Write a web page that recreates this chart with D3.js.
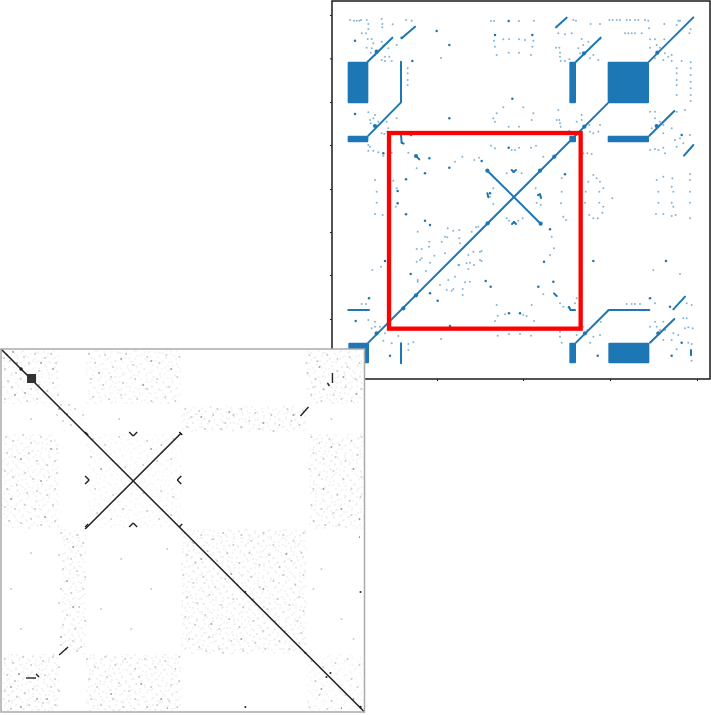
<!DOCTYPE html>
<html><head><meta charset="utf-8">
<script src="https://cdn.jsdelivr.net/npm/d3@7"></script>
<style>html,body{margin:0;padding:0;background:#fff}svg{display:block}</style>
</head><body><svg id="c" width="711" height="715"></svg>
<script>
// ---- upper sparsity plot, row/column cells ----
const spyBlocks=[[53,115,185,310],[718,738,185,310],[833,957,185,310],[53,115,407,427],[718,738,407,427],[833,957,407,427],[55,117,1028,1090],[718,738,1028,1090],[835,958,1028,1090]];
const spySegments=[[115,1028,833,310],[957,185,1090,52],[113,185,187,113],[215,115,255,80],[115,407,213,307],[213,307,213,185],[738,185,812,113],[678,82,710,53],[958,407,1033,333],[1062,467,1090,435],[960,1028,1033,957],[1030,928,1065,890],[738,1028,836,930],[836,930,958,930],[55,930,117,930],[213,1030,213,1090],[472,512,632,671],[213,405,215,428],[215,428,221,431],[258,468,268,478],[672,880,680,888],[717,922,722,930],[722,930,735,930],[1083,1050,1083,1065],[545,510,551,516],[551,516,558,510],[546,672,552,666],[552,666,558,672],[472,580,475,592],[630,582,633,594]];
const spyNodes=[[472,512],[630,512],[473,670],[632,671],[220,925],[258,886],[673,470],[140,155],[762,160],[982,158],[135,378],[763,380],[980,378],[140,1000],[765,1000],[985,1000],[728,417],[258,468]];
const spyDark=[[320,93],[358,135],[247,183],[75,122],[215,113],[536,63],[495,105],[607,105],[547,296],[75,342],[358,355],[243,405],[160,460],[298,475],[285,520],[358,503],[455,483],[536,443],[705,523],[228,538],[203,573],[203,610],[228,643],[285,662],[300,675],[300,880],[242,822],[323,902],[165,783],[467,843],[482,860],[625,860],[670,845],[642,785],[660,688],[480,580],[625,585],[537,940],[570,940],[790,783],[1008,783],[717,922],[360,978],[117,895],[77,963],[180,1067],[803,1067],[960,895],[1025,1067],[1055,1028],[1020,920],[1055,405]];
const spyLight=[[60,60],[72,62],[80,62],[88,62],[93,60],[110,60],[115,72],[155,57],[157,72],[157,82],[188,73],[228,60],[245,62],[115,87],[95,100],[108,100],[113,117],[125,117],[130,130],[110,143],[125,145],[155,125],[160,137],[175,145],[122,158],[135,165],[165,170],[178,170],[155,180],[165,183],[185,183],[200,135],
[483,63],[492,63],[567,63],[612,62],[492,122],[520,118],[537,118],[567,118],[585,120],[610,122],[495,140],[607,140],[500,165],[536,158],[567,158],[603,165],[333,174],[233,205],[233,220],[233,240],[233,255],
[730,60],[738,62],[680,80],[685,100],[705,103],[725,100],[782,72],[810,72],[810,117],[755,117],[775,125],[760,135],[745,145],[678,143],[688,143],[690,158],[690,170],[692,183],[705,183],[718,178],[780,175],[790,165],[805,180],[750,160],
[838,60],[848,60],[860,60],[870,60],[890,60],[900,60],[915,60],[925,60],[945,60],[955,62],[957,85],[1003,72],[1045,62],[1050,62],[1040,75],[885,100],[895,100],[905,100],[915,100],[935,100],[960,118],[975,118],[1003,118],[980,135],[960,143],[990,143],[1005,160],[1015,170],[1025,165],[975,175],[1000,180],[1025,183],[1055,183],[1082,187],[1078,100],[1082,88],[1040,205],[1040,220],[1040,240],[1040,255],[1082,205],[1082,225],[1082,245],[1082,265],[1082,285],[1082,303],[1040,285],
[520,322],[580,322],[500,340],[610,340],[490,355],[605,360],[495,365],[536,380],[567,380],[115,337],[130,355],[135,345],[120,360],[122,370],[145,365],[170,365],[200,355],[175,385],[155,400],[163,402],[172,395],
[685,330],[680,360],[688,360],[690,370],[692,380],[690,395],[705,395],[718,392],[740,365],[755,345],[755,360],[778,375],[805,395],[810,375],[790,400],[780,395],
[975,335],[960,335],[975,355],[990,365],[1000,375],[965,385],[1000,400],[1025,385],[1040,335],[1065,330],[1080,405],[1035,420],[1050,415],[1040,440],[1060,430],
[115,435],[120,440],[115,452],[130,452],[145,457],[160,467],[185,458],[135,540],[190,542],[200,565],[235,458],[260,505],[375,485],[397,470],[433,480],[447,473],
[483,437],[495,445],[545,450],[567,443],[555,450],[603,443],[618,437],[640,470],[530,520],[575,520],[490,565],[617,565],[695,535],[755,450],[760,460],[772,460],[785,462],[755,465],[790,525],[800,535],[820,565],[810,545],[775,545],[975,447],[960,450],[985,450],[1005,460],[1000,443],[1027,535],[1025,560],[980,540],[1080,522],[1080,540],[1000,530],
[140,575],[140,608],[197,620],[135,642],[158,645],[263,695],[353,685],[370,692],[388,690],[345,710],[352,712],[335,725],[298,725],[297,740],[260,747],[275,747],[345,760],[313,767],[275,775],[270,780],[300,788],[260,785],[385,795],[388,715],[390,730],[425,695],[438,682],[445,680],[430,755],[450,755],[455,753],[415,765],[450,780],[455,783],[420,788],[410,790],[415,807],[432,795],[388,795],[375,830],[355,840],[420,845],[405,847],[330,855],[370,867],[365,872],[350,870],[398,867],[398,885],[263,845],[263,840],[288,813],[127,810],[153,800],
[640,883],[665,710],[672,745],[660,765],[480,590],[490,612],[632,592],[620,608],[632,615],[537,662],[565,662],[530,655],[578,655],[695,575],[693,610],[700,650],[708,660],[970,810],[1050,822],
[690,910],[700,920],[740,895],[735,910],[500,915],[605,915],[495,963],[612,963],[503,947],[525,943],[580,945],[590,948],[503,1007],[537,1002],[570,1002],[603,1007],[333,1017],
[767,575],[808,575],[765,608],[808,608],[820,620],[817,638],[778,645],[790,655],[803,655],[847,595],[985,575],[1030,575],[1080,575],[985,608],[1025,608],[1030,620],[1080,608],[978,642],[1000,642],[1025,648],[1037,645],[1080,655],
[95,912],[108,912],[115,960],[135,965],[135,980],[125,985],[150,980],[165,1000],[160,1022],[185,1030],[205,1008],[250,1027],[235,1032],[235,1050],[690,995],[690,1010],[695,1028],[740,1005],[760,980],[772,990],[790,1010],[810,1005],[780,1028],[812,965],[800,965],
[890,912],[905,912],[915,912],[930,912],[975,910],[975,965],[980,980],[1000,965],[960,980],[990,990],[1005,990],[1000,1020],[1025,1020],[1030,1000],[1060,955],[1070,955],[1065,985],[1075,982],[1088,985],[1045,1005],[1075,1028],[1040,1048],[1085,1032],[1082,1055],[1082,1065],[1085,1082],[1070,910],[1085,915]];
const spyXTicks=[321,579,840,1101];
const spyYTicks=[45,175,306,435,567,696,825,957,1086];
const zoomBox=[177,752,399,986];

// ---- lower grey matrix view ----
const matrixDiagonals=[[0,0,363,363],[84,180,180,84]];
const matrixSquare=[26,35,25,34];
const matrixStrokes=[[331,24,331,34],[326,34,328,37],[299,67,307,58],[58,306,67,298],[25,329,35,329],[35,325,38,328],[128,83,132,87],[132,87,136,83],[128,178,132,174],[132,174,136,178],[84,127,88,131],[88,131,84,135],[180,127,176,131],[176,131,180,135],[84,83,87,86],[178,83,181,86],[84,178,87,175],[178,178,181,175]];
const matrixSpots=[[20,20,1.7],[359,243,1],[358,188,.6],[244,358,1],[325,328,1],[329,324,1],[359,358,1.2],[304,304,1],[244,243,1],[166,359,.5],[340,359,.6]];
const matrixRegions=[[0,58,0,55,.8],[85,180,0,55,.8],[305,363,0,55,.9],[180,305,57,83,.95],[0,58,85,180,.8],[85,180,85,180,.45],[308,363,85,180,.9],[60,85,180,305,.95],[180,305,180,305,1],[0,58,305,363,1],[85,180,305,363,1],[305,363,305,363,.6],[58,85,57,83,.4]];
const matrixTile=[[2,3],[9,1],[17,4],[24,2],[33,5],[5,8],[13,9],[21,7],[29,10],[36,8],[1,13],[8,15],[16,13],[25,15],[32,14],[4,19],[12,20],[20,18],[28,21],[35,19],[7,24],[15,25],[23,23],[31,26],[2,28],[10,30],[18,29],[26,31],[34,29],[6,34],[14,35],[22,33],[30,36],[1,38],[9,40],[17,38],[25,39],[33,40]];
const matrixNoiseStrong=[[6,6],[12,3],[16,14],[40,14],[52,20],[14,46],[24,44],[98,24],[120,10],[142,36],[150,12],[170,20],[58,60],[66,65],[20,110],[40,132],[50,100],[10,150],[44,168],[100,120],[150,100],[200,68],[228,63],[262,74],[292,66],[318,18],[342,28],[355,45],[330,98],[352,120],[322,140],[340,160],[358,170],[72,198],[66,232],[72,258],[60,288],[65,300],[10,338],[20,358],[46,350],[110,345],[140,335],[160,350],[200,210],[230,225],[210,275],[262,240],[285,205],[240,290],[320,340],[352,350],[18,325],[36,350]];
const matrixNoise=[[3,9],[9,12],[4,20],[15,24],[23,8],[28,14],[34,5],[38,22],[44,9],[50,5],[55,14],[7,32],[11,38],[20,30],[30,40],[38,36],[46,42],[52,34],[57,46],[4,50],[26,52],[36,50],
[88,5],[94,14],[104,6],[112,18],[125,5],[132,16],[146,8],[158,14],[165,6],[178,8],[90,30],[102,36],[110,28],[122,34],[134,30],[146,40],[156,30],[168,38],[176,28],[92,48],[108,50],[120,46],[136,50],[150,52],[164,48],[174,52],
[60,56],[68,56],[74,60],[82,66],[62,72],[70,76],[78,78],[56,66],
[5,88],[12,92],[22,86],[30,94],[40,88],[50,92],[56,100],[6,104],[14,108],[28,104],[36,112],[46,116],[54,112],[4,122],[12,128],[24,124],[32,130],[48,128],[56,124],[6,140],[16,136],[26,144],[36,142],[46,146],[54,140],[4,158],[14,160],[24,156],[34,160],[52,156],[8,172],[20,174],[30,170],[40,176],[54,172],
[92,90],[104,96],[118,88],[146,92],[160,96],[172,90],[90,108],[112,112],[124,118],[142,116],[156,112],[170,110],[94,140],[112,146],[124,140],[142,144],[160,142],[172,148],[96,164],[110,170],[122,160],[146,162],[158,170],[170,166],
[184,60],[190,68],[198,62],[208,72],[216,60],[224,74],[232,66],[240,60],[248,72],[254,64],[270,66],[278,76],[286,60],[298,76],[302,62],[186,78],[204,80],[220,80],[258,80],[272,82],[290,72],[240,78],[212,66],
[308,6],[316,12],[326,6],[336,10],[348,8],[358,14],[306,24],[314,30],[322,40],[336,22],[346,18],[354,30],[310,46],[320,52],[332,46],[340,50],[350,52],[360,40],[344,38],[312,38],[305,14],
[310,88],[318,94],[328,90],[338,96],[350,92],[360,88],[312,104],[322,110],[334,108],[344,112],[356,106],[308,120],[318,126],[332,122],[342,130],[360,128],[312,140],[336,146],[350,140],[310,156],[320,160],[332,164],[348,152],[312,172],[324,176],[338,176],[350,166],[359,148],
[60,184],[66,190],[76,186],[82,194],[58,206],[70,210],[80,206],[62,220],[76,222],[84,228],[60,240],[70,244],[82,240],[58,254],[66,266],[78,258],[62,276],[74,280],[84,272],[60,296],[72,292],[80,298],[76,302],
[184,184],[192,194],[200,186],[212,190],[222,184],[232,196],[240,186],[250,192],[262,184],[272,196],[282,186],[292,192],[302,184],
[186,206],[194,214],[206,202],[216,212],[226,204],[238,214],[248,204],[258,216],[268,206],[278,218],[290,212],[300,204],
[182,226],[192,234],[202,228],[214,238],[224,230],[236,236],[250,228],[258,238],[272,232],[282,226],[294,236],[302,226],
[186,248],[196,254],[208,246],[220,256],[232,250],[242,258],[252,250],[266,260],[276,250],[288,256],[298,248],[302,262],
[184,268],[194,276],[204,266],[218,280],[228,270],[238,278],[252,272],[262,282],[274,272],[284,282],[296,272],[300,284],
[188,290],[198,298],[208,288],[218,300],[230,292],[242,302],[254,294],[264,300],[278,292],[288,300],[298,294],[205,302],[222,304],
[4,310],[12,314],[22,308],[30,316],[42,312],[52,308],[58,318],[6,326],[14,332],[44,326],[54,330],[4,342],[24,344],[32,340],[50,338],[58,342],[8,352],[16,348],[28,356],[42,354],[54,356],[10,360],
[86,310],[94,318],[104,308],[114,316],[124,310],[134,320],[144,310],[154,318],[164,312],[174,320],[178,308],[88,330],[96,338],[106,328],[118,334],[128,342],[138,328],[150,338],[170,336],[178,332],[90,350],[100,356],[112,350],[122,358],[134,350],[146,358],[156,356],[168,352],[176,358],
[310,312],[322,318],[334,314],[346,310],[358,316],[314,332],[338,338],[350,330],[318,346],[330,352],[344,346],[308,358],[326,360],[356,338],
[30,204],[10,240],[20,280],[120,210],[150,240],[130,280],[100,260],[320,220],[340,270],[352,290],[312,240],[166,200],[30,70],[118,70],[330,70]];

const svg=d3.select("#c");
const defs=svg.append("defs");
const blurDef=(id,s)=>defs.append("filter").attr("id",id).attr("x","-5%").attr("y","-5%").attr("width","110%").attr("height","110%").append("feGaussianBlur").attr("stdDeviation",s);
blurDef("soft",0.55);
blurDef("soft2",0.3);

// upper plot
const blue="#1f77b4";
const sx=d3.scaleLinear().domain([6,1140]).range([332,710]);
const sy=d3.scaleLinear().domain([3,1137]).range([1,379]);
const upper=svg.append("g");
upper.append("rect").attr("x",sx(6)).attr("y",sy(3)).attr("width",sx(1140)-sx(6)).attr("height",sy(1137)-sy(3)).attr("fill","#fff");
const marks=upper.append("g").attr("filter","url(#soft2)");
marks.append("g").selectAll("circle").data(spyLight).join("circle")
  .attr("cx",d=>sx(d[0])).attr("cy",d=>sy(d[1])).attr("r",1).attr("fill",blue).attr("opacity",.55);
marks.append("g").selectAll("circle").data(spyDark).join("circle")
  .attr("cx",d=>sx(d[0])).attr("cy",d=>sy(d[1])).attr("r",1.25).attr("fill",blue);
marks.append("g").selectAll("line").data(spySegments).join("line")
  .attr("x1",d=>sx(d[0])).attr("y1",d=>sy(d[1])).attr("x2",d=>sx(d[2])).attr("y2",d=>sy(d[3]))
  .attr("stroke",blue).attr("stroke-width",2).attr("stroke-linecap","round");
marks.append("g").selectAll("circle").data(spyNodes).join("circle")
  .attr("cx",d=>sx(d[0])).attr("cy",d=>sy(d[1])).attr("r",2.1).attr("fill",blue);
marks.append("g").selectAll("rect").data(spyBlocks).join("rect")
  .attr("x",d=>sx(d[0])).attr("width",d=>sx(d[1])-sx(d[0]))
  .attr("y",d=>sy(d[2])).attr("height",d=>sy(d[3])-sy(d[2]))
  .attr("rx",1).attr("fill",blue);
upper.append("rect").attr("x",sx(6)).attr("y",sy(3)).attr("width",sx(1140)-sx(6)).attr("height",sy(1137)-sy(3))
  .attr("fill","none").attr("stroke","#1a1a1a").attr("stroke-width",1.5);
const xAxis=d3.axisBottom(sx).tickValues(spyXTicks).tickSize(2).tickFormat("");
const yAxis=d3.axisLeft(sy).tickValues(spyYTicks).tickSize(2).tickFormat("");
upper.append("g").attr("transform",`translate(0,${sy(1137)})`).call(xAxis).call(g=>{g.select(".domain").remove();g.selectAll("line").attr("stroke","#222")});
upper.append("g").attr("transform",`translate(${sx(6)},0)`).call(yAxis).call(g=>{g.select(".domain").remove();g.selectAll("line").attr("stroke","#222")});
upper.append("rect").attr("x",sx(zoomBox[0])).attr("y",sy(zoomBox[2])).attr("width",sx(zoomBox[1])-sx(zoomBox[0])).attr("height",sy(zoomBox[3])-sy(zoomBox[2]))
  .attr("fill","none").attr("stroke","#f00").attr("stroke-width",4.3);

// lower grey view
const mx=d3.scaleLinear().domain([0,363]).range([1,364.5]);
const my=d3.scaleLinear().domain([0,363]).range([349,712]);
const tileX=d3.scaleLinear().domain([0,37]).range([0,37]);
const tileY=d3.scaleLinear().domain([0,41]).range([0,41]);
const addPattern=(id,transform)=>{
  const p=defs.append("pattern").attr("id",id).attr("patternUnits","userSpaceOnUse")
    .attr("width",tileX(37)).attr("height",tileY(41)).attr("patternTransform",transform);
  p.selectAll("circle").data(matrixTile).join("circle")
    .attr("cx",d=>tileX(d[0])).attr("cy",d=>tileY(d[1])).attr("r",.9).attr("fill","#777").attr("opacity",.12);
};
addPattern("grainA","translate(3,5)");
addPattern("grainB","rotate(90) translate(11,4)");
const low=svg.append("g");
low.append("rect").attr("x",mx(0)).attr("y",my(0)).attr("width",mx(363)-mx(0)).attr("height",my(363)-my(0)).attr("fill","#fff");
const inner=low.append("g").attr("filter","url(#soft)");
["grainA","grainB"].forEach(id=>{
  inner.append("g").selectAll("rect").data(matrixRegions).join("rect")
    .attr("x",d=>mx(d[0])).attr("width",d=>mx(d[1])-mx(d[0]))
    .attr("y",d=>my(d[2])).attr("height",d=>my(d[3])-my(d[2]))
    .attr("opacity",d=>d[4]).attr("fill",`url(#${id})`);
});
inner.append("g").selectAll("circle").data(matrixNoise).join("circle")
  .attr("cx",d=>mx(d[0])).attr("cy",d=>my(d[1])).attr("r",1).attr("fill","#555").attr("opacity",.3);
inner.append("g").selectAll("circle").data(matrixNoiseStrong).join("circle")
  .attr("cx",d=>mx(d[0])).attr("cy",d=>my(d[1])).attr("r",1).attr("fill","#333").attr("opacity",.45);
const sharp=low.append("g").attr("filter","url(#soft2)");
sharp.append("g").selectAll("line").data(matrixDiagonals).join("line")
  .attr("x1",d=>mx(d[0])).attr("y1",d=>my(d[1])).attr("x2",d=>mx(d[2])).attr("y2",d=>my(d[3]))
  .attr("stroke","#222").attr("stroke-width",1.6);
sharp.append("g").selectAll("line").data(matrixStrokes).join("line")
  .attr("x1",d=>mx(d[0])).attr("y1",d=>my(d[1])).attr("x2",d=>mx(d[2])).attr("y2",d=>my(d[3]))
  .attr("stroke","#222").attr("stroke-width",1.4);
sharp.append("rect").attr("x",mx(matrixSquare[0])).attr("width",mx(matrixSquare[1])-mx(matrixSquare[0]))
  .attr("y",my(matrixSquare[2])).attr("height",my(matrixSquare[3])-my(matrixSquare[2])).attr("fill","#333");
sharp.append("g").selectAll("circle").data(matrixSpots).join("circle")
  .attr("cx",d=>mx(d[0])).attr("cy",d=>my(d[1])).attr("r",d=>d[2]).attr("fill","#222");
low.append("rect").attr("x",mx(0)).attr("y",my(0)).attr("width",mx(363)-mx(0)).attr("height",my(363)-my(0))
  .attr("fill","none").attr("stroke","#aaa").attr("stroke-width",1.5);
</script></body></html>
